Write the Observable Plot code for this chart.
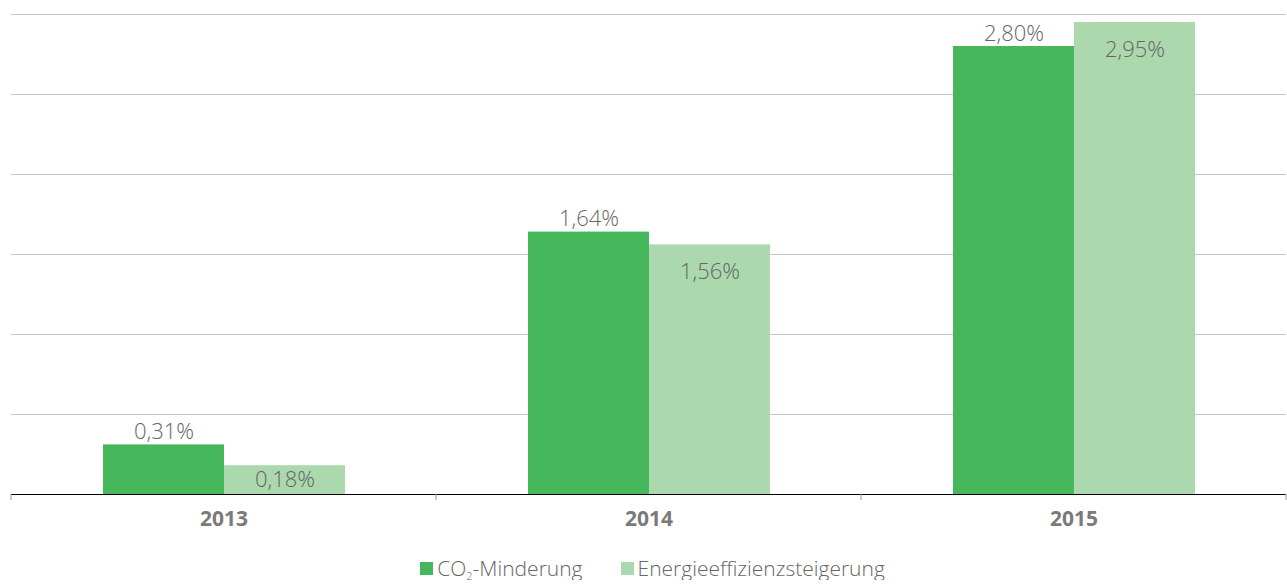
<!DOCTYPE html>
<html>
<head>
<meta charset="utf-8">
<script src="https://cdn.jsdelivr.net/npm/d3@7"></script>
<script src="https://cdn.jsdelivr.net/npm/@observablehq/plot@0.6"></script>
<style>
  body { margin: 0; background: #fff; font-family: "Open Sans", sans-serif; }
  #legend { display: flex; justify-content: center; align-items: center; padding-left: 18px; padding-top: 16px; font-size: 21px; font-weight: 300; line-height: 24px; color: #666; }
  .item { display: flex; align-items: center; margin-right: 38px; }
  .item:last-child { margin-right: 0; }
  .sw { width: 13px; height: 13px; margin-right: 4px; display: inline-block; }
  sub { font-size: 11px; vertical-align: -4px; line-height: 0; }
</style>
</head>
<body>
<div id="chart"></div>
<div id="legend"></div>
<script>
const years = ["2013", "2014", "2015"];
const series = ["CO2-Minderung", "Energieeffizienzsteigerung"];
const seriesLabels = ["CO<sub>2</sub>-Minderung", "Energieeffizienzsteigerung"];
const co2 = [0.31, 1.64, 2.80];
const energie = [0.18, 1.56, 2.95];
const colors = ["#46b75a", "#acd8ad"];
const yTicks = [0.5, 1, 1.5, 2, 2.5, 3];

const data = years.flatMap((y, i) => [
  {year: y, series: series[0], value: co2[i]},
  {year: y, series: series[1], value: energie[i]}
]);
const fmt = d => d.value.toFixed(2).replace(".", ",") + "%";

const plot = Plot.plot({
  width: 1287,
  height: 540,
  marginLeft: 10,
  marginRight: 0,
  marginTop: 14,
  marginBottom: 46,
  style: {fontFamily: "Open Sans", background: "white", overflow: "visible"},
  fx: {domain: years, padding: 0, label: null, axis: null},
  x: {domain: series, paddingInner: 0, paddingOuter: 0.745, axis: null},
  y: {domain: [0, 3], axis: null},
  color: {domain: series, range: colors},
  marks: [
    Plot.ruleY(yTicks, {stroke: "#c6c6c6", strokeWidth: 1}),
    Plot.barY(data, {fx: "year", x: "series", y: "value", fill: "series"}),
    Plot.ruleY([0], {stroke: "#000", strokeWidth: 1.2}),
    Plot.text(data.filter(d => d.series === series[0]), {
      fx: "year", x: "series", y: "value", text: fmt, dy: -13,
      fontSize: 22, fontWeight: 300, fill: "#666", fontFamily: "Open Sans"
    }),
    Plot.text(data.filter(d => d.series === series[1]), {
      fx: "year", x: "series", y: d => Math.max(d.value - 0.17, d.value / 2), text: fmt,
      fontSize: 22, fontWeight: 300, fill: "#666", fontFamily: "Open Sans"
    }),
    Plot.axisFx({anchor: "bottom", tickSize: 0, tickPadding: 17, fontSize: 21, fontWeight: "bold", fill: "#7a7a7a", label: null})
  ]
});
document.getElementById("chart").appendChild(plot);

// boundary ticks between year groups, from the fx scale
const fxs = plot.scale("fx");
const ys = plot.scale("y");
const y0 = ys.apply(0);
const bounds = years.map(y => fxs.apply(y)).concat([fxs.apply(years[years.length - 1]) + fxs.bandwidth]);
const svg = d3.select(plot);
svg.append("g").selectAll("line").data(bounds).join("line")
  .attr("x1", d => Math.min(d, 1286)).attr("x2", d => Math.min(d, 1286))
  .attr("y1", y0).attr("y2", y0 + 6)
  .attr("stroke", "#999").attr("stroke-width", 1);

const legend = document.getElementById("legend");
series.forEach((s, i) => {
  const it = document.createElement("div");
  it.className = "item";
  it.innerHTML = `<span class="sw" style="background:${colors[i]}"></span><span>${seriesLabels[i]}</span>`;
  legend.appendChild(it);
});
</script>
</body>
</html>
